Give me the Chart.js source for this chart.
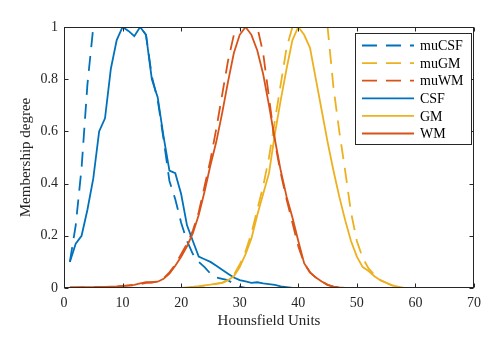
<!DOCTYPE html>
<html>
<head>
<meta charset="utf-8">
<script src="https://cdn.jsdelivr.net/npm/chart.js@4/dist/chart.umd.min.js"></script>
<style>
html,body{margin:0;padding:0;background:#fff;}
#wrap{width:496px;height:344px;position:relative;}
</style>
</head>
<body>
<div id="wrap"><canvas id="c"></canvas></div>
<script>
const hu = [1,2,3,4,5,6,7,8,9,10,11,12,13,14,15,16,17,18,19,20,21,22,23,24,25,26,27,28,29,30,31,32,33,34,35,36,37,38,39,40,41,42,43,44,45,46,47,48,49,50,51,52,53,54,55,56,57,58,59,60,61,62,63,64,65,66,67,68,69,70];

const muCSF = [0.10,0.24,0.46,0.78,1,1,1,1,1,1,1,1,1,0.97,0.81,0.72,0.57,0.41,0.34,0.25,0.18,0.13,0.10,0.08,0.055,0.04,0.035,0.03,0.015,0.005,
 0,0,0,0,0,0,0,0,0,0,0,0,0,0,0,0,0,0,0,0,0,0,0,0,0,0,0,0,0,0,0,0,0,0,0,0,0,0,0,0];
const muGM = [0,0,0,0,0,0,0,0,0,0,0,0,0,0,0,0,0,0,0,0,
 0.002,0.004,0.006,0.009,0.012,0.016,0.02,0.03,0.05,0.09,0.14,0.21,0.30,0.39,0.50,0.64,0.78,0.92,1,1,1,1,1,1,1,0.77,0.60,0.45,0.29,0.18,0.115,0.075,0.05,0.03,0.02,0.01,0.005,
 0,0,0,0,0,0,0,0,0,0,0,0,0];
const muWM = [0.002,0.002,0.002,0.003,0.003,0.003,0.004,0.004,0.005,0.007,0.009,0.011,0.014,0.02,0.021,0.025,0.037,0.06,0.09,0.13,0.17,0.22,0.29,0.39,0.49,0.61,0.74,0.87,0.97,1,1,1,1,0.9,0.73,0.56,0.44,0.34,0.25,0.16,0.095,0.06,0.04,0.025,0.012,0.005,0.002,
 0,0,0,0,0,0,0,0,0,0,0,0,0,0,0,0,0,0,0,0,0,0,0];
const CSF = [0.10,0.17,0.20,0.30,0.42,0.60,0.65,0.84,0.95,1.00,0.985,0.965,1.00,0.97,0.80,0.73,0.58,0.45,0.44,0.36,0.24,0.18,0.12,0.11,0.10,0.085,0.07,0.055,0.04,0.03,0.025,0.02,0.022,0.018,0.015,0.012,0.006,0.003,
 0,0,0,0,0,0,0,0,0,0,0,0,0,0,0,0,0,0,0,0,0,0,0,0,0,0,0,0,0,0,0,0];
const GM = [0,0,0,0,0,0,0,0,0,0,0,0,0,0,0,0,0,0,0,0,
 0.002,0.004,0.006,0.01,0.013,0.017,0.02,0.03,0.045,0.08,0.13,0.19,0.28,0.36,0.44,0.59,0.72,0.84,0.95,1,0.97,0.92,0.8,0.68,0.56,0.45,0.35,0.26,0.18,0.12,0.08,0.065,0.045,0.03,0.02,0.01,0.005,
 0,0,0,0,0,0,0,0,0,0,0,0,0];
const WM = [0.002,0.002,0.003,0.003,0.003,0.004,0.004,0.005,0.006,0.008,0.01,0.012,0.018,0.022,0.022,0.024,0.035,0.055,0.085,0.12,0.16,0.21,0.28,0.37,0.47,0.56,0.67,0.79,0.9,0.97,1,0.97,0.91,0.82,0.7,0.57,0.45,0.35,0.27,0.18,0.095,0.06,0.04,0.025,0.012,0.005,0.002,
 0,0,0,0,0,0,0,0,0,0,0,0,0,0,0,0,0,0,0,0,0,0,0];

const seriesNames = ['muCSF','muGM','muWM','CSF','GM','WM'];
const xTicks = [0,10,20,30,40,50,60,70];
const yTicks = [0,0.2,0.4,0.6,0.8,1];

const BLUE='#0072BD', YEL='#EDB120', RED='#D95319';
const DASH=[15,9];
const FONT='"Liberation Serif", "Times New Roman", serif';

function pts(arr){ return hu.map((x,i)=>({x:x,y:arr[i]})); }
function ds(label, arr, color, dashed, order){
  return {label:label, data:pts(arr), borderColor:color, backgroundColor:color,
    borderWidth:1.8, borderDash: dashed?DASH:[], pointRadius:0, tension:0, fill:false, order:order};
}

const frame = {
  id:'frame',
  afterDatasetsDraw(chart){
    const ctx=chart.ctx, a=chart.chartArea;
    const sx=chart.scales.x, sy=chart.scales.y;
    ctx.save();
    ctx.strokeStyle='#262626'; ctx.lineWidth=1; ctx.setLineDash([]);
    const L=Math.round(a.left)+0.5, R=Math.round(a.right)-0.5, T=Math.round(a.top)+0.5, B=Math.round(a.bottom)-0.5;
    ctx.strokeRect(L,T,R-L,B-T);
    ctx.beginPath();
    xTicks.forEach(v=>{
      const p=Math.round(sx.getPixelForValue(v))+0.5;
      ctx.moveTo(p,B); ctx.lineTo(p,B-4);
      ctx.moveTo(p,T); ctx.lineTo(p,T+4);
    });
    yTicks.forEach(v=>{
      const p=Math.round(sy.getPixelForValue(v))+0.5;
      ctx.moveTo(L,p); ctx.lineTo(L+4,p);
      ctx.moveTo(R,p); ctx.lineTo(R-4,p);
    });
    ctx.stroke();

    // legend
    const bx=355.5, by=33.5, bw=116, bh=111;
    ctx.fillStyle='#fff';
    ctx.fillRect(bx,by,bw,bh);
    ctx.strokeStyle='#262626';
    ctx.strokeRect(bx,by,bw,bh);
    ctx.font='14px '+FONT;
    ctx.textBaseline='middle';
    ctx.textAlign='left';
    chart.data.datasets.forEach((d,i)=>{
      const y=45.5+i*17.6;
      ctx.beginPath();
      ctx.strokeStyle=d.borderColor; ctx.lineWidth=1.8;
      ctx.setLineDash(d.borderDash||[]);
      ctx.moveTo(362,y); ctx.lineTo(414,y);
      ctx.stroke();
      ctx.setLineDash([]);
      ctx.fillStyle='#000';
      ctx.fillText(d.label,420,y+1);
    });
    ctx.restore();
  }
};

new Chart(document.getElementById('c'), {
  type:'line',
  data:{ datasets:[
    ds(seriesNames[0], muCSF, BLUE, true, 6),
    ds(seriesNames[1], muGM, YEL, true, 5),
    ds(seriesNames[2], muWM, RED, true, 4),
    ds(seriesNames[3], CSF, BLUE, false, 3),
    ds(seriesNames[4], GM, YEL, false, 2),
    ds(seriesNames[5], WM, RED, false, 1)
  ]},
  options:{
    responsive:true, maintainAspectRatio:false, animation:false,
    layout:{padding:{top:27,right:22,left:0,bottom:0}},
    plugins:{legend:{display:false}, tooltip:{enabled:false}},
    scales:{
      x:{type:'linear', min:0, max:70,
        afterBuildTicks(s){ s.ticks = xTicks.map(v=>({value:v})); },
        afterFit(s){ s.height=56; },
        grid:{display:false, drawTicks:false}, border:{display:false},
        ticks:{padding:7, color:'#262626', font:{family:FONT,size:14}, maxRotation:0},
        title:{display:true, text:'Hounsfield Units', color:'#262626', font:{family:FONT,size:15}, padding:{top:0,bottom:14}}
      },
      y:{type:'linear', min:0, max:1,
        afterBuildTicks(s){ s.ticks = yTicks.map(v=>({value:v})); },
        afterFit(s){ s.width=64; },
        grid:{display:false, drawTicks:false}, border:{display:false},
        ticks:{padding:6, color:'#262626', font:{family:FONT,size:14}, callback:(v)=>String(v)},
        title:{display:true, text:'Membership degree', color:'#262626', font:{family:FONT,size:15}, padding:{top:17,bottom:0}}
      }
    }
  },
  plugins:[frame]
});
</script>
</body>
</html>
